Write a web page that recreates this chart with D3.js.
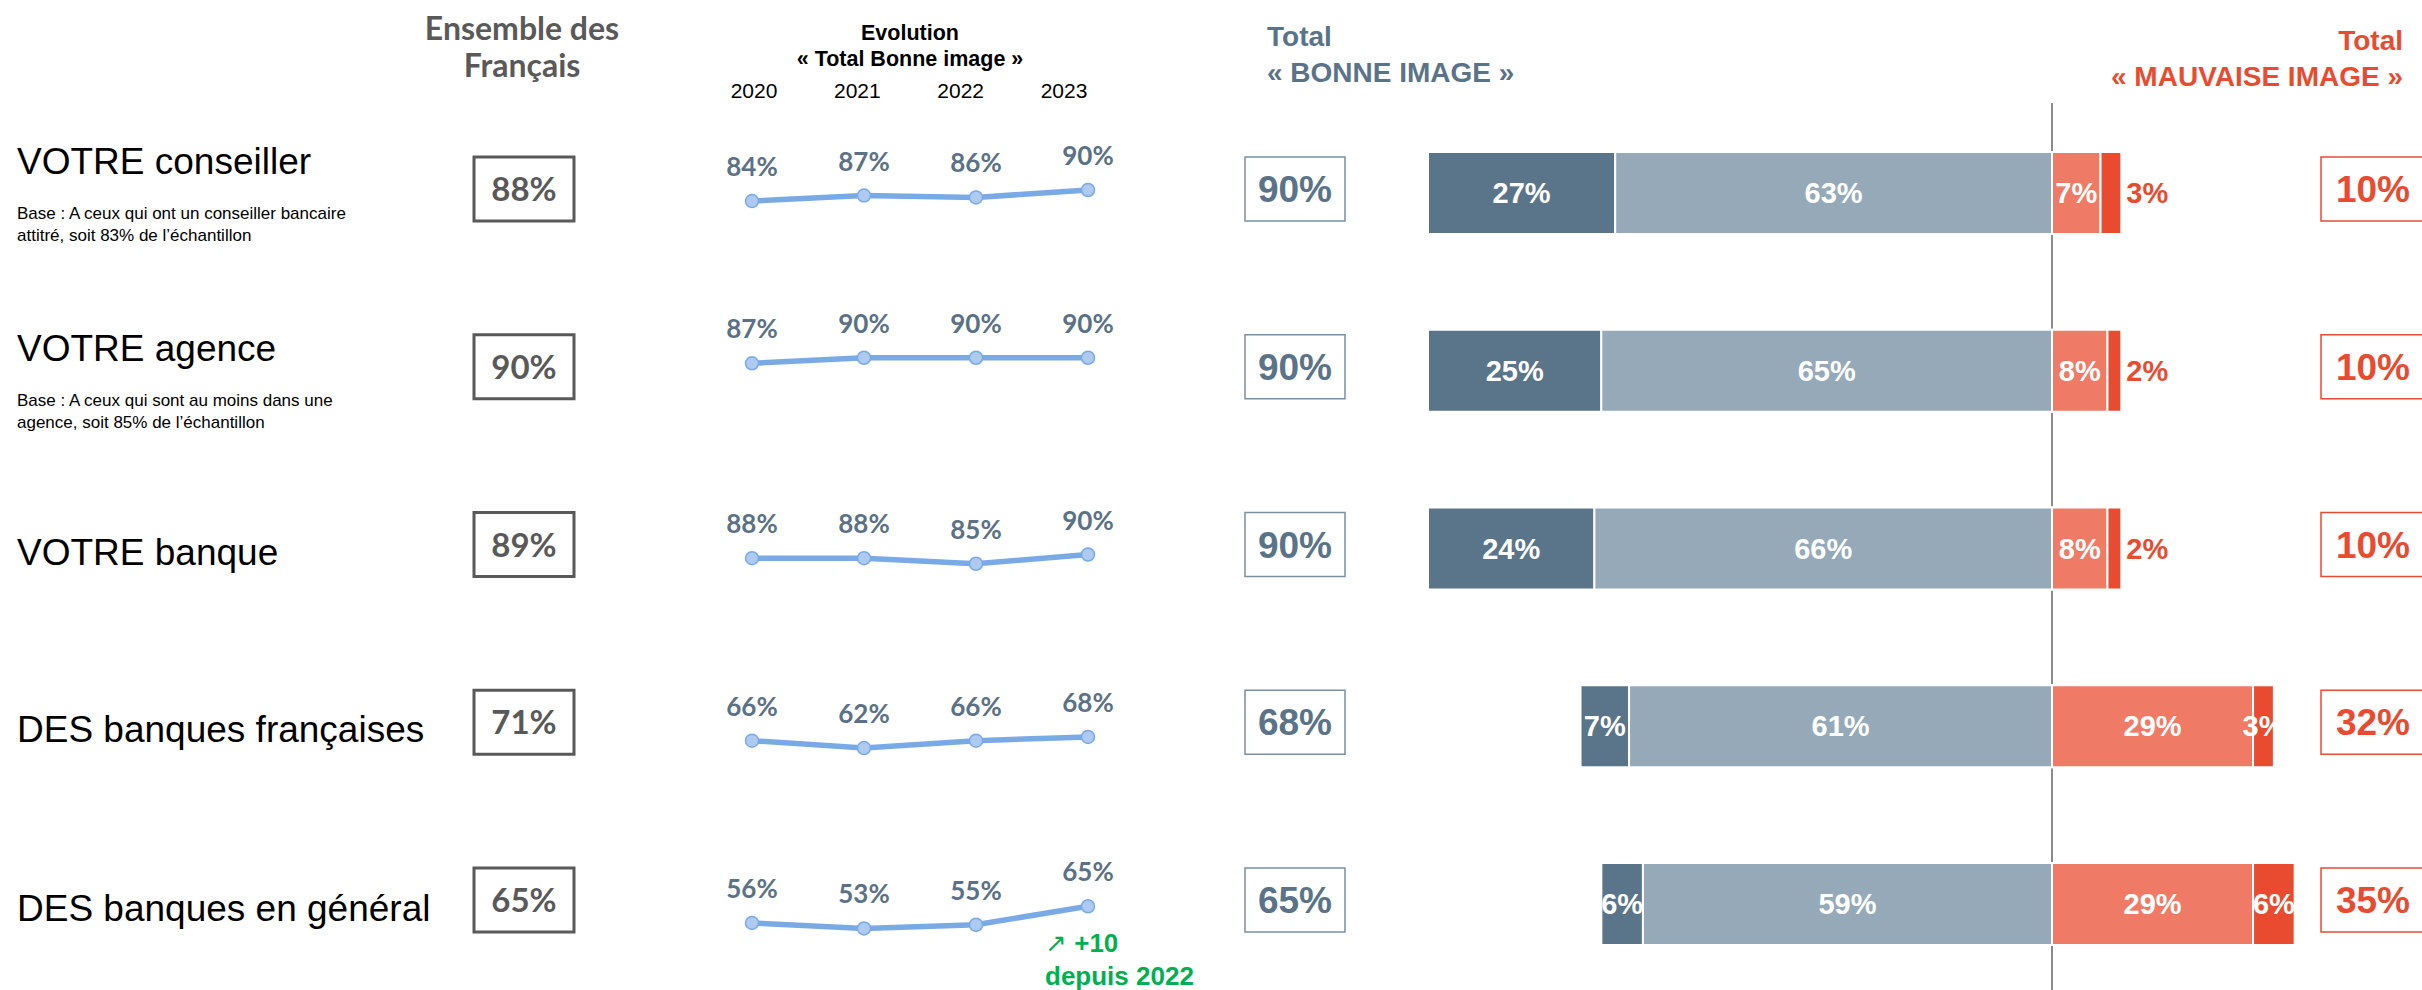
<!DOCTYPE html>
<html>
<head>
<meta charset="utf-8">
<script src="https://cdn.jsdelivr.net/npm/d3@7"></script>
<style>
  body { margin: 0; background: #ffffff; }
  svg { display: block; }
</style>
</head>
<body>
<div id="chart"></div>
<script>
// data
var categories = ["VOTRE conseiller", "VOTRE agence", "VOTRE banque", "DES banques françaises", "DES banques en général"];
var baseNotes = [
  ["Base : A ceux qui ont un conseiller bancaire", "attitré, soit 83% de l\u2019échantillon"],
  ["Base : A ceux qui sont au moins dans une", "agence, soit 85% de l\u2019échantillon"],
  [], [], []
];
var ensembleFrancais = [88, 90, 89, 71, 65];
var years = ["2020", "2021", "2022", "2023"];
var evolution = [
  [84, 87, 86, 90],
  [87, 90, 90, 90],
  [88, 88, 85, 90],
  [66, 62, 66, 68],
  [56, 53, 55, 65]
];
var tresBonne = [27, 25, 24, 7, 6];
var assezBonne = [63, 65, 66, 61, 59];
var assezMauvaise = [7, 8, 8, 29, 29];
var tresMauvaise = [3, 2, 2, 3, 6];
var totalBonne = [90, 90, 90, 68, 65];
var totalMauvaise = [10, 10, 10, 32, 35];

// layout
var width = 2422, height = 990;
var arial = "'Liberation Sans', Arial, sans-serif";
var calibri = "Lato, 'Open Sans', sans-serif";
var blueGrey = "#5a7389";
var redTxt = "#e84b30";
var colours = { tb: "#5a7489", ab: "#95a9b9", am: "#ef7b66", tm: "#e84b30" };
var labelShift = [-19, -10, 16, 16, 17];     // row label baseline vs row centre
var sparkShift = [-3, -13, 6, -30, -44];     // y of 90% in each sparkline vs row centre
var redOutside = [true, true, true, false, false];

var svg = d3.select("#chart").append("svg")
  .attr("width", width)
  .attr("height", height)
  .attr("viewBox", "0 0 " + width + " " + height);

// scales
var rowY = d3.scalePoint().domain(categories).range([193, 904]);
var x = d3.scaleLinear().domain([-90, 0]).range([1428, 2052]);
var xYear = d3.scalePoint().domain(years).range([752, 1088]);
var xYearLabel = d3.scalePoint().domain(years).range([754, 1064]);
var ySpark = d3.scaleLinear().domain([90, 0]).range([0, 166.5]);
var barH = 82;

// headers
var h1 = svg.append("text")
  .attr("text-anchor", "middle")
  .style("font-family", calibri).style("font-weight", "bold")
  .style("font-size", "32px").style("fill", "#595959");
h1.append("tspan").attr("x", 522).attr("y", 40).text("Ensemble des");
h1.append("tspan").attr("x", 522).attr("y", 77).text("Français");

svg.append("text")
  .attr("x", 910).attr("y", 40)
  .attr("text-anchor", "middle")
  .style("font-family", arial).style("font-weight", "bold")
  .style("font-size", "21.5px").style("fill", "#000")
  .text("Evolution");
svg.append("text")
  .attr("x", 910).attr("y", 66)
  .attr("text-anchor", "middle")
  .style("font-family", arial).style("font-weight", "bold")
  .style("font-size", "21.5px").style("fill", "#000")
  .text("« Total Bonne image »");

svg.selectAll(".year")
  .data(years)
  .enter()
  .append("text")
  .attr("class", "year")
  .attr("x", function (d) { return xYearLabel(d); })
  .attr("y", 98)
  .attr("text-anchor", "middle")
  .style("font-family", arial).style("font-size", "21px").style("fill", "#000")
  .text(function (d) { return d; });

svg.append("text")
  .attr("x", 1267).attr("y", 46)
  .style("font-family", arial).style("font-weight", "bold")
  .style("font-size", "28px").style("fill", blueGrey)
  .text("Total");
svg.append("text")
  .attr("x", 1267).attr("y", 82)
  .style("font-family", arial).style("font-weight", "bold")
  .style("font-size", "28px").style("fill", blueGrey)
  .text("« BONNE IMAGE »");
svg.append("text")
  .attr("x", 2403).attr("y", 50)
  .attr("text-anchor", "end")
  .style("font-family", arial).style("font-weight", "bold")
  .style("font-size", "28px").style("fill", redTxt)
  .text("Total");
svg.append("text")
  .attr("x", 2403).attr("y", 86)
  .attr("text-anchor", "end")
  .style("font-family", arial).style("font-weight", "bold")
  .style("font-size", "28px").style("fill", redTxt)
  .text("« MAUVAISE IMAGE »");

// zero line
svg.append("line")
  .attr("x1", x(0)).attr("x2", x(0))
  .attr("y1", 103).attr("y2", height)
  .style("stroke", "#8c8c8c").style("stroke-width", 2);

var rows = svg.selectAll(".row")
  .data(categories)
  .enter()
  .append("g")
  .attr("class", "row");

// row labels
rows.append("text")
  .attr("x", 17)
  .attr("y", function (d, i) { return rowY(d) + labelShift[i]; })
  .style("font-family", arial).style("font-size", "37px").style("fill", "#000")
  .text(function (d) { return d; });

rows.each(function (d, i) {
  var g = d3.select(this);
  baseNotes[i].forEach(function (t, j) {
    g.append("text")
      .attr("x", 17)
      .attr("y", rowY(d) + labelShift[i] + 45 + j * 22)
      .style("font-family", arial).style("font-size", "17px").style("fill", "#000")
      .text(t);
  });
});

// ensemble des français boxes
rows.append("rect")
  .attr("x", 474).attr("width", 100)
  .attr("y", function (d) { return rowY(d) - 4 - 32; })
  .attr("height", 64)
  .style("fill", "#fff").style("stroke", "#595959").style("stroke-width", 3);
rows.append("text")
  .attr("x", 524)
  .attr("y", function (d) { return rowY(d) - 4 + 12; })
  .attr("text-anchor", "middle")
  .style("font-family", calibri).style("font-weight", "bold")
  .style("font-size", "33px").style("fill", "#595959")
  .text(function (d, i) { return ensembleFrancais[i] + "%"; });

// sparklines
var line = d3.line()
  .x(function (d) { return xYear(d.year); })
  .y(function (d) { return d.y; });

rows.each(function (d, i) {
  var g = d3.select(this);
  var pts = evolution[i].map(function (v, j) {
    return { year: years[j], v: v, y: rowY(d) + sparkShift[i] + ySpark(v) };
  });
  g.append("path")
    .attr("d", line(pts))
    .style("fill", "none").style("stroke", "#7aaae6").style("stroke-width", 5.5);
  g.selectAll(".pt")
    .data(pts)
    .enter()
    .append("circle")
    .attr("class", "pt")
    .attr("cx", function (p) { return xYear(p.year); })
    .attr("cy", function (p) { return p.y; })
    .attr("r", 6.5)
    .style("fill", "#aecaf0").style("stroke", "#7aaae6").style("stroke-width", 1.5);
  g.selectAll(".ptlab")
    .data(pts)
    .enter()
    .append("text")
    .attr("class", "ptlab")
    .attr("x", function (p) { return xYear(p.year); })
    .attr("y", function (p) { return p.y - 25; })
    .attr("text-anchor", "middle")
    .style("font-family", calibri).style("font-weight", "bold")
    .style("font-size", "26px").style("fill", "#5b7185")
    .text(function (p) { return p.v + "%"; });
});

// annotation on the last sparkline
var ann = svg.append("g")
  .style("font-family", arial).style("font-weight", "bold").style("fill", "#00b050");
ann.append("text")
  .attr("x", 1045).attr("y", 952)
  .style("font-size", "26px")
  .html("<tspan style='font-weight:normal'>\u2197</tspan> +10");
ann.append("text")
  .attr("x", 1045).attr("y", 985)
  .style("font-size", "26px")
  .text("depuis 2022");

// total bonne image boxes
rows.append("rect")
  .attr("x", 1245).attr("width", 100)
  .attr("y", function (d) { return rowY(d) - 4 - 32; })
  .attr("height", 64)
  .style("fill", "#fff").style("stroke", "#7890a3").style("stroke-width", 1.5);
rows.append("text")
  .attr("x", 1295)
  .attr("y", function (d) { return rowY(d) - 4 + 13; })
  .attr("text-anchor", "middle")
  .style("font-family", arial).style("font-weight", "bold")
  .style("font-size", "37px").style("fill", blueGrey)
  .text(function (d, i) { return totalBonne[i] + "%"; });

// stacked bars
rows.each(function (d, i) {
  var g = d3.select(this);
  var segs = [
    { k: "tb", x0: -(tresBonne[i] + assezBonne[i]), x1: -assezBonne[i], v: tresBonne[i] },
    { k: "ab", x0: -assezBonne[i], x1: 0, v: assezBonne[i] },
    { k: "am", x0: 0, x1: assezMauvaise[i], v: assezMauvaise[i] },
    { k: "tm", x0: assezMauvaise[i], x1: assezMauvaise[i] + tresMauvaise[i], v: tresMauvaise[i] }
  ];
  g.selectAll(".seg")
    .data(segs)
    .enter()
    .append("rect")
    .attr("class", "seg")
    .attr("x", function (s) { return x(s.x0); })
    .attr("width", function (s) { return x(s.x1) - x(s.x0); })
    .attr("y", rowY(d) - barH / 2)
    .attr("height", barH)
    .style("fill", function (s) { return colours[s.k]; })
    .style("stroke", "#fff").style("stroke-width", 2);
  g.selectAll(".seglab")
    .data(segs)
    .enter()
    .append("text")
    .attr("class", "seglab")
    .attr("x", function (s) {
      if (s.k == "tm" && redOutside[i]) return x(s.x1) + 5;
      return (x(s.x0) + x(s.x1)) / 2;
    })
    .attr("y", rowY(d) + 10)
    .attr("text-anchor", function (s) { return (s.k == "tm" && redOutside[i]) ? "start" : "middle"; })
    .style("font-family", arial).style("font-weight", "bold").style("font-size", "29px")
    .style("fill", function (s) { return (s.k == "tm" && redOutside[i]) ? redTxt : "#fff"; })
    .text(function (s) { return s.v + "%"; });
});

// total mauvaise image boxes
rows.append("rect")
  .attr("x", 2321).attr("width", 102)
  .attr("y", function (d) { return rowY(d) - 4 - 32; })
  .attr("height", 64)
  .style("fill", "#fff").style("stroke", redTxt).style("stroke-width", 1.5);
rows.append("text")
  .attr("x", 2373)
  .attr("y", function (d) { return rowY(d) - 4 + 13; })
  .attr("text-anchor", "middle")
  .style("font-family", arial).style("font-weight", "bold")
  .style("font-size", "37px").style("fill", redTxt)
  .text(function (d, i) { return totalMauvaise[i] + "%"; });
</script>
</body>
</html>
